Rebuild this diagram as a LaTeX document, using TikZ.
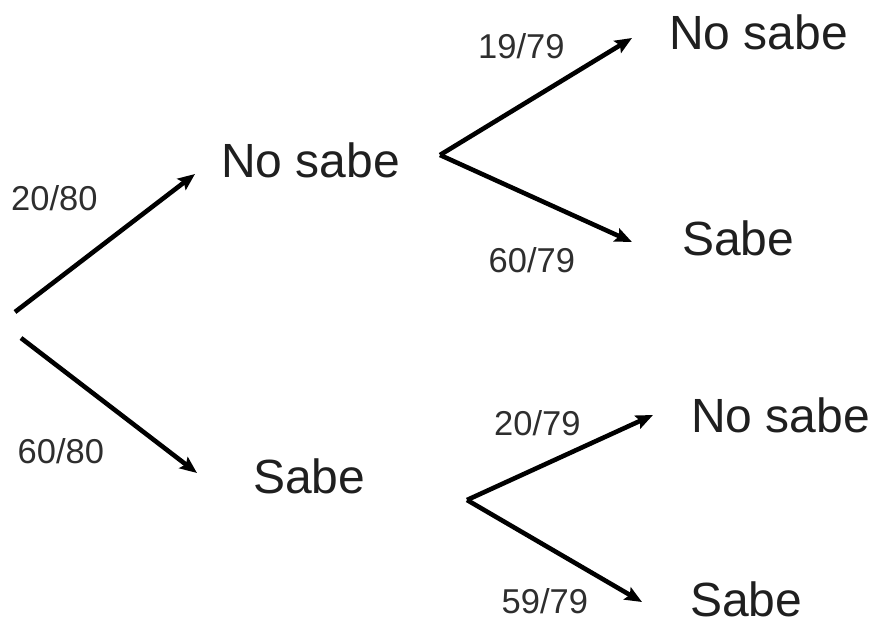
\documentclass[tikz,border=0pt]{standalone}
\usepackage{fontspec}
\setmainfont{Liberation Sans}
\usetikzlibrary{positioning,arrows.meta}

\begin{document}
\begin{tikzpicture}[x=1pt,y=-1pt,
  state/.style={inner sep=0pt, anchor=base west, text=black!88, font=\fontsize{48}{57}\selectfont},
  prob/.style={inner sep=0pt, anchor=base west, text=black!82, font=\fontsize{34.5}{41}\selectfont},
  branch/.style={line width=4.6pt, -{Stealth[length=17pt,width=14pt,inset=3pt]}}]
\useasboundingbox (0,0) rectangle (875,623);

\node[state] (ns) at (221,177) {No sabe};
\node[state] (s) at (253,493) {Sabe};
\node[state] (ns1) at (669,50) {No sabe};
\node[state] (s1) at (682,255) {Sabe};
\node[state] (ns2) at (691,432) {No sabe};
\node[state] (s2) at (690,616) {Sabe};

\node[prob] (p1) at (11,210) {20/80};
\node[prob] (p2) at (17.5,463) {60/80};
\node[prob] (p3) at (478,59) {19/79};
\node[prob] (p4) at (488.5,272) {60/79};
\node[prob] (p5) at (494,435) {20/79};
\node[prob] (p6) at (501.5,613) {59/79};

%set anchor points for the branches
\coordinate (root1) at (15,312);
\coordinate (root2) at (21,338);
\coordinate (b1) at (440,155);
\coordinate (b2) at (467,500);
\coordinate[above left=3pt and 26pt of ns.base west] (t1);
\coordinate[above left=20pt and 56pt of s.base west] (t2);
\coordinate[above left=12pt and 37pt of ns1.base west] (t3);
\coordinate[above left=13pt and 50pt of s1.base west] (t4);
\coordinate[above left=17pt and 38pt of ns2.base west] (t5);
\coordinate[above left=14pt and 48pt of s2.base west] (t6);

\draw[branch] (root1) -- (t1);
\draw[branch] (root2) -- (t2);
\draw[branch] (b1) -- (t3);
\draw[branch] (b1) -- (t4);
\draw[branch] (b2) -- (t5);
\draw[branch] (b2) -- (t6);
\end{tikzpicture}
\end{document}
